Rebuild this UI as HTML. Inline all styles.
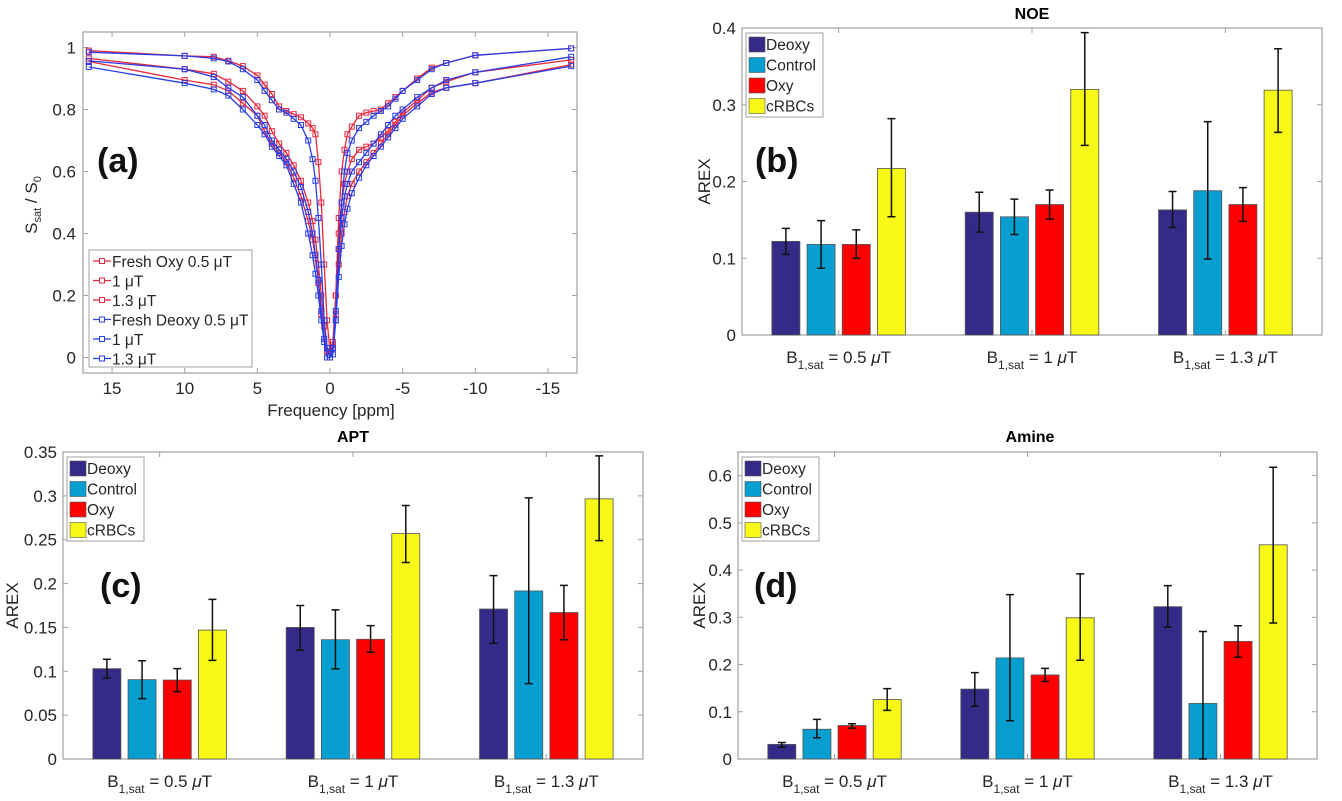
<!DOCTYPE html>
<html><head><meta charset="utf-8">
<style>
html,body{margin:0;padding:0;background:#fff;}
svg{display:block;font-family:"Liberation Sans",Arial,sans-serif;}
</style></head>
<body>
<svg id="fig" width="1342" height="801" viewBox="0 0 1342 801" xmlns="http://www.w3.org/2000/svg"></svg>
<script>
// ---------- Panel (a) data ----------
const freqPpm = [16.6,10,8,7,6,5,4.5,4,3.5,3,2.5,2,1.5,1.2,1,0.8,0.6,0.4,0.2,0,-0.2,-0.4,-0.6,-0.8,-1,-1.2,-1.5,-2,-2.5,-3,-3.5,-4,-4.5,-5,-6,-7,-8,-10,-16.6];
const oxy05 = [.99,.973,.97,.957,.94,.91,.88,.85,.81,.795,.785,.775,.755,.74,.72,.63,.50,.30,.12,.02,.03,.2,.45,.6,.67,.72,.745,.78,.79,.795,.80,.82,.84,.86,.9,.935,.95,.975,.997];
const deoxy05 = [.985,.973,.965,.955,.93,.895,.86,.83,.80,.79,.77,.75,.70,.64,.57,.45,.3,.12,.03,0,.01,.12,.35,.5,.6,.66,.70,.74,.76,.78,.795,.81,.835,.86,.895,.93,.95,.975,.997];
const oxy1 = [.965,.93,.915,.89,.86,.81,.78,.73,.69,.66,.62,.57,.5,.44,.38,.3,.2,.1,.03,.02,.05,.2,.4,.5,.56,.6,.64,.67,.68,.69,.71,.73,.76,.79,.83,.87,.89,.92,.96];
const deoxy1 = [.957,.93,.905,.87,.84,.78,.75,.70,.67,.64,.60,.55,.47,.4,.33,.25,.15,.06,0,0,.03,.15,.35,.45,.52,.56,.60,.63,.66,.69,.72,.75,.78,.80,.84,.87,.895,.92,.97];
const oxy13 = [.955,.895,.88,.86,.82,.78,.73,.69,.66,.63,.58,.52,.44,.38,.32,.24,.14,.06,.02,.02,.04,.14,.3,.4,.47,.52,.56,.6,.63,.66,.69,.72,.75,.78,.82,.855,.87,.885,.945];
const deoxy13 = [.937,.885,.865,.845,.80,.75,.72,.68,.65,.62,.56,.50,.40,.33,.27,.2,.12,.05,0,0,.03,.12,.26,.36,.43,.48,.53,.58,.62,.65,.68,.71,.74,.77,.81,.85,.87,.885,.94];
const legendA = ["Fresh Oxy 0.5 \u03bcT"," 1 \u03bcT","1.3 \u03bcT","Fresh Deoxy 0.5 \u03bcT"," 1 \u03bcT","1.3 \u03bcT"];
const xTicksA = [15,10,5,0,-5,-10,-15];
const yTicksA = [0,0.2,0.4,0.6,0.8,1];

// ---------- Bar panel data ----------
const groups = ["0.5","1","1.3"];
const seriesNames = ["Deoxy","Control","Oxy","cRBCs"];
// NOE (b)
const noeDeoxy=[.122,.160,.163], noeDeoxyLo=[.105,.134,.140], noeDeoxyHi=[.139,.186,.187];
const noeControl=[.118,.154,.188], noeControlLo=[.087,.131,.099], noeControlHi=[.149,.177,.278];
const noeOxy=[.118,.170,.170], noeOxyLo=[.100,.151,.148], noeOxyHi=[.137,.189,.192];
const noeCRBC=[.217,.320,.319], noeCRBCLo=[.154,.247,.264], noeCRBCHi=[.282,.394,.373];
const noeTicks=[0,0.1,0.2,0.3,0.4];
// APT (c)
const aptDeoxy=[.103,.150,.171], aptDeoxyLo=[.0924,.124,.132], aptDeoxyHi=[.1137,.175,.209];
const aptControl=[.0905,.136,.1916], aptControlLo=[.0688,.1027,.086], aptControlHi=[.112,.170,.2977];
const aptOxy=[.090,.1365,.167], aptOxyLo=[.0768,.1217,.136], aptOxyHi=[.103,.152,.198];
const aptCRBC=[.147,.257,.2966], aptCRBCLo=[.1125,.224,.249], aptCRBCHi=[.182,.289,.3456];
const aptTicks=[0,0.05,0.1,0.15,0.2,0.25,0.3,0.35];
// Amine (d)
const amDeoxy=[.031,.148,.3225], amDeoxyLo=[.025,.112,.279], amDeoxyHi=[.035,.183,.367];
const amControl=[.063,.214,.1176], amControlLo=[.045,.081,-0.035], amControlHi=[.084,.348,.270];
const amOxy=[.071,.178,.249], amOxyLo=[.0655,.164,.2155], amOxyHi=[.0746,.192,.282];
const amCRBC=[.126,.299,.4535], amCRBCLo=[.103,.209,.288], amCRBCHi=[.149,.392,.6176];
const amTicks=[0,0.1,0.2,0.3,0.4,0.5,0.6];

const NS="http://www.w3.org/2000/svg";
const svg=document.getElementById('fig');
function mk(tag,attrs,parent){const e=document.createElementNS(NS,tag);for(const k in attrs)e.setAttribute(k,attrs[k]);(parent||svg).appendChild(e);return e;}
const TXT='#262626', AX='#a0a0a0';

// ---------- Panel (a) ----------
(function(){
  const L=83,T=32,R=577,B=373, fmin=17,fmax=-17, ymin=-0.05,ymax=1.05;
  const g=mk('g',{});
  
  
  const xs=f=>L+(fmin-f)/(fmin-fmax)*(R-L);
  const ys=v=>B-(v-ymin)/(ymax-ymin)*(B-T);
  const box=mk('rect',{x:L,y:T,width:R-L,height:B-T,fill:'none',stroke:AX,'stroke-width':1.2},g);
  
  
  xTicksA.forEach(t=>{const x=xs(t);
    mk('line',{x1:x,x2:x,y1:B,y2:B-5,stroke:AX},g);mk('line',{x1:x,x2:x,y1:T,y2:T+5,stroke:AX},g);
    const tx=mk('text',{x:x,y:B+21,'text-anchor':'middle','font-size':17,fill:TXT},g);tx.textContent=t;
    
    });
  yTicksA.forEach(t=>{const y=ys(t);
    mk('line',{x1:L,x2:L+5,y1:y,y2:y,stroke:AX},g);mk('line',{x1:R,x2:R-5,y1:y,y2:y,stroke:AX},g);
    const tx=mk('text',{x:L-7,y:y+6,'text-anchor':'end','font-size':17,fill:TXT},g);tx.textContent=t;
    
    });
  const xl=mk('text',{x:331,y:416,'text-anchor':'middle','font-size':17,fill:TXT},g);xl.textContent='Frequency [ppm]';
  
  
  const yl=mk('text',{transform:'translate(37,205) rotate(-90)','text-anchor':'middle','font-size':17,fill:TXT},g);
  yl.innerHTML='S<tspan font-size="11" dy="4">sat</tspan><tspan dy="-4"> / S</tspan><tspan font-size="11" dy="4">0</tspan>';
  
  
  const pl=mk('text',{x:97,y:172,'font-size':34,'font-weight':'bold',fill:'#111'},g);pl.textContent='(a)';
  
  
  const series=[oxy05,oxy1,oxy13,deoxy05,deoxy1,deoxy13];
  const cols=['#e8283c','#e8283c','#e8283c','#2a3ee8','#2a3ee8','#2a3ee8'];
  series.forEach((s,i)=>{
    const pts=s.map((v,j)=>xs(freqPpm[j]).toFixed(1)+','+ys(v).toFixed(1)).join(' ');
    const pl=mk('polyline',{points:pts,fill:'none',stroke:cols[i],'stroke-width':1.3},g);
    
    
    s.forEach((v,j)=>{const r=mk('rect',{x:xs(freqPpm[j])-2.5,y:ys(v)-2.5,width:5,height:5,fill:'none',stroke:cols[i],'stroke-width':1},g);
      
      });
  });
  const lg=mk('g',{},g);
  
  
  mk('rect',{x:89,y:250,width:163,height:117,fill:'#fff',stroke:AX},lg);
  legendA.forEach((n,i)=>{const y=261+i*19.5;
    mk('line',{x1:93,x2:111,y1:y,y2:y,stroke:cols[i],'stroke-width':1.3},lg);
    mk('rect',{x:99.5,y:y-2.5,width:5,height:5,fill:'#fff',stroke:cols[i]},lg);
    const t=mk('text',{x:112,y:y+6,'font-size':15.5,fill:TXT},lg);t.textContent=n;
    
    });
})();

// ---------- Bar panels ----------
const barColors=['#352a87','#069fcf','#ff0000','#f8f817'];
function barPanel(opt){
  const {L,T,R,B,ymax,ticks,vals,lo,hi,title,titleX,titleY,label,labelX,labelY,ylabelX,name}=opt;
  const g=mk('g',{});
  
  
  const unit=(R-L)/3;
  const xs=u=>L+(u-0.5)*unit;
  const ys=v=>B-Math.max(v,0)/ymax*(B-T);
  const box=mk('rect',{x:L,y:T,width:R-L,height:B-T,fill:'#fff',stroke:AX,'stroke-width':1.2},g);
  
  
  ticks.forEach(t=>{const y=ys(t);
    mk('line',{x1:L,x2:L+5,y1:y,y2:y,stroke:AX},g);mk('line',{x1:R,x2:R-5,y1:y,y2:y,stroke:AX},g);
    const tx=mk('text',{x:L-6,y:y+6,'text-anchor':'end','font-size':17,fill:TXT},g);tx.textContent=t;
    
    });
  groups.forEach((gname,gi)=>{const x=xs(gi+1);
    mk('line',{x1:x,x2:x,y1:B,y2:B-5,stroke:AX},g);mk('line',{x1:x,x2:x,y1:T,y2:T+5,stroke:AX},g);
    const tx=mk('text',{x:x,y:B+28,'text-anchor':'middle','font-size':17,fill:TXT},g);
    tx.innerHTML='B<tspan font-size="12" dy="6">1,sat</tspan><tspan dy="-6"> = '+gname+' </tspan><tspan font-style="italic">\u03bc</tspan>T';
    
    });
  const step=0.182, bw=0.145;
  vals.forEach((arr,si)=>{arr.forEach((v,gi)=>{
    const cx=xs(gi+1+(si-1.5)*step), w=bw*unit;
    const r=mk('rect',{x:cx-w/2,y:ys(v),width:w,height:B-ys(v),fill:barColors[si],stroke:'#555','stroke-width':0.8},g);
    
    
    const y1=ys(lo[si][gi]), y2=ys(hi[si][gi]);
    const eb=mk('path',{d:`M${cx},${y1}V${y2}M${cx-4},${y1}H${cx+4}M${cx-4},${y2}H${cx+4}`,stroke:'#111','stroke-width':1.5,fill:'none'},g);
    
    
  });});
  const tt=mk('text',{x:titleX,y:titleY,'text-anchor':'middle','font-size':16,'font-weight':'bold',fill:'#000'},g);tt.textContent=title;
  
  
  const yl=mk('text',{transform:`translate(${ylabelX},${(T+B)/2}) rotate(-90)`,'text-anchor':'middle','font-size':17,fill:TXT},g);yl.textContent='AREX';
  
  
  const pl=mk('text',{x:labelX,y:labelY,'font-size':34,'font-weight':'bold',fill:'#111'},g);pl.textContent=label;
  
  
  const lg=mk('g',{},g);
  
  
  mk('rect',{x:L+4,y:T+5,width:77,height:84,fill:'#fff',stroke:AX},lg);
  seriesNames.forEach((n,i)=>{const y=T+9+i*20.5;
    mk('rect',{x:L+7,y:y,width:16,height:15,fill:barColors[i],stroke:'#555','stroke-width':0.6},lg);
    const t=mk('text',{x:L+24,y:y+13,'font-size':15.5,fill:TXT},lg);t.textContent=n;
    
    });
}
barPanel({name:'panel-b-noe',L:742,T:28,R:1322,B:335,ymax:0.4,ticks:noeTicks,
  vals:[noeDeoxy,noeControl,noeOxy,noeCRBC],lo:[noeDeoxyLo,noeControlLo,noeOxyLo,noeCRBCLo],hi:[noeDeoxyHi,noeControlHi,noeOxyHi,noeCRBCHi],
  title:'NOE',titleX:1032,titleY:19,label:'(b)',labelX:755,labelY:172,ylabelX:710});
barPanel({name:'panel-c-apt',L:63,T:452,R:643,B:759,ymax:0.35,ticks:aptTicks,
  vals:[aptDeoxy,aptControl,aptOxy,aptCRBC],lo:[aptDeoxyLo,aptControlLo,aptOxyLo,aptCRBCLo],hi:[aptDeoxyHi,aptControlHi,aptOxyHi,aptCRBCHi],
  title:'APT',titleX:353,titleY:442,label:'(c)',labelX:100,labelY:597,ylabelX:18});
barPanel({name:'panel-d-amine',L:738,T:452,R:1317,B:759,ymax:0.65,ticks:amTicks,
  vals:[amDeoxy,amControl,amOxy,amCRBC],lo:[amDeoxyLo,amControlLo,amOxyLo,amCRBCLo],hi:[amDeoxyHi,amControlHi,amOxyHi,amCRBCHi],
  title:'Amine',titleX:1030,titleY:442,label:'(d)',labelX:754,labelY:597,ylabelX:705});
</script>
</body></html>
